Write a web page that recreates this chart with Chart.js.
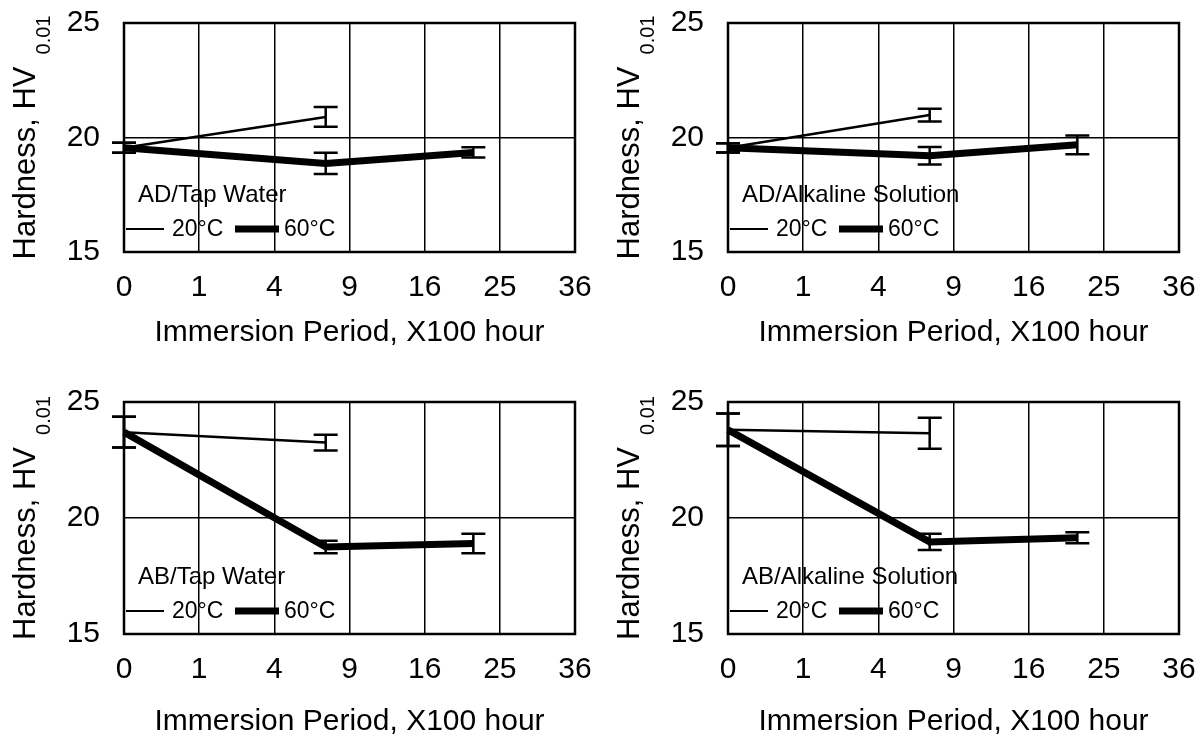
<!DOCTYPE html>
<html>
<head>
<meta charset="utf-8">
<script src="https://cdn.jsdelivr.net/npm/chart.js@4/dist/chart.umd.min.js"></script>
<style>
  body { margin: 0; background: #fff; overflow: hidden; }
  .panel { position: absolute; width: 602px; height: 368px; }
</style>
</head>
<body>
<div class="panel" style="left:0;top:0"><canvas id="adTap"></canvas></div>
<div class="panel" style="left:604px;top:0"><canvas id="adAlk"></canvas></div>
<div class="panel" style="left:0;top:379px"><canvas id="abTap"></canvas></div>
<div class="panel" style="left:604px;top:379px"><canvas id="abAlk"></canvas></div>
<script>
// immersion period, x100 hour
const periods = [0, 7.2, 21.6];
const xTicks = [0, 1, 4, 9, 16, 25, 36];
const yTicks = [15, 20, 25];

// hardness HV0.01 (mean) and error (+/-)
const adTap20 = [19.55, 20.9];
const adTap20Err = [0.22, 0.43];
const adTap60 = [19.55, 18.87, 19.35];
const adTap60Err = [0.22, 0.46, 0.22];

const adAlk20 = [19.55, 20.98];
const adAlk20Err = [0.2, 0.28];
const adAlk60 = [19.55, 19.2, 19.68];
const adAlk60Err = [0.2, 0.38, 0.41];

const abTap20 = [23.7, 23.25];
const abTap20Err = [0.66, 0.34];
const abTap60 = [23.7, 18.75, 18.9];
const abTap60Err = [0.66, 0.27, 0.42];

const abAlk20 = [23.8, 23.65];
const abAlk20Err = [0.7, 0.67];
const abAlk60 = [23.8, 18.97, 19.15];
const abAlk60Err = [0.7, 0.35, 0.24];

const FONT = '"Liberation Sans", Arial, sans-serif';

function points(vals) {
    return vals.map((v, i) => ({ x: Math.sqrt(periods[i]), y: v }));
}

// frame around plot area
const frame = {
    id: "frame",
    beforeDatasetsDraw(chart) {
        const a = chart.chartArea, ctx = chart.ctx;
        ctx.save();
        ctx.strokeStyle = "#000";
        ctx.lineWidth = 2.5;
        ctx.strokeRect(a.left, a.top, a.right - a.left, a.bottom - a.top);
        ctx.restore();
    }
};

// I-shaped error bars
const errorBars = {
    id: "errorBars",
    afterDatasetsDraw(chart) {
        const ctx = chart.ctx, xs = chart.scales.x, ys = chart.scales.y;
        ctx.save();
        ctx.strokeStyle = "#000";
        ctx.lineWidth = 2.5;
        chart.data.datasets.forEach(ds => {
            ds.data.forEach((p, i) => {
                const e = ds.err[i];
                const x = xs.getPixelForValue(p.x);
                const y1 = ys.getPixelForValue(p.y + e);
                const y2 = ys.getPixelForValue(p.y - e);
                ctx.beginPath();
                ctx.moveTo(x, y1); ctx.lineTo(x, y2);
                ctx.moveTo(x - 12, y1); ctx.lineTo(x + 12, y1);
                ctx.moveTo(x - 12, y2); ctx.lineTo(x + 12, y2);
                ctx.stroke();
            });
        });
        ctx.restore();
    }
};

// panel label + legend inside plot, and y axis title with subscript
const labels = {
    id: "labels",
    afterDraw(chart) {
        const a = chart.chartArea, ctx = chart.ctx;
        const opts = chart.options.plugins.labels;
        ctx.save();
        ctx.fillStyle = "#000";
        ctx.strokeStyle = "#000";
        ctx.textBaseline = "alphabetic";
        ctx.font = "24px " + FONT;
        ctx.fillText(opts.text, a.left + 14, a.bottom - 50);

        const ly = a.bottom - 23;
        ctx.lineWidth = 2;
        ctx.beginPath(); ctx.moveTo(a.left + 2, ly); ctx.lineTo(a.left + 40, ly); ctx.stroke();
        ctx.textBaseline = "middle";
        ctx.font = "23px " + FONT;
        ctx.fillText(chart.data.datasets[0].label, a.left + 48, ly + 1);
        ctx.lineWidth = 7;
        ctx.beginPath(); ctx.moveTo(a.left + 111, ly); ctx.lineTo(a.left + 155, ly); ctx.stroke();
        ctx.fillText(chart.data.datasets[1].label, a.left + 160, ly + 1);

        // y title
        ctx.translate(26, (a.top + a.bottom) / 2);
        ctx.rotate(-Math.PI / 2);
        ctx.textAlign = "left";
        ctx.textBaseline = "middle";
        ctx.font = "31px " + FONT;
        const main = "Hardness, HV";
        const w1 = ctx.measureText(main).width;
        ctx.font = "20px " + FONT;
        const sub = "0.01";
        const w2 = ctx.measureText(sub).width;
        const start = -(w1 + 12 + w2) / 2;
        ctx.font = "31px " + FONT;
        ctx.fillText(main, start, 0);
        ctx.font = "20px " + FONT;
        ctx.fillText(sub, start + w1 + 12, 18);
        ctx.restore();
    }
};

function makeChart(id, text, h20, e20, h60, e60, xAxisH, titlePad) {
    new Chart(document.getElementById(id), {
        type: "line",
        data: {
            datasets: [{
                label: "20°C",
                data: points(h20),
                err: e20,
                borderColor: "#000",
                borderWidth: 2.5,
                pointRadius: 0,
                clip: false
            }, {
                label: "60°C",
                data: points(h60),
                err: e60,
                borderColor: "#000",
                borderWidth: 7,
                pointRadius: 0,
                clip: false
            }]
        },
        options: {
            responsive: true,
            maintainAspectRatio: false,
            animation: false,
            layout: { padding: { top: 23, right: 27, left: 0, bottom: 0 } },
            scales: {
                x: {
                    type: "linear",
                    min: 0,
                    max: Math.sqrt(xTicks[xTicks.length - 1]),
                    afterBuildTicks: s => { s.ticks = xTicks.map(t => ({ value: Math.sqrt(t) })); },
                    afterFit: s => {
                        s.height = xAxisH;
                        s.paddingLeft = 0; s.paddingRight = 0;
                    },
                    ticks: {
                        callback: v => Math.round(v * v),
                        color: "#000",
                        font: { size: 30, family: FONT },
                        padding: 18,
                        maxRotation: 0
                    },
                    title: {
                        display: true,
                        text: "Immersion Period, X100 hour",
                        color: "#000",
                        font: { size: 30, family: FONT },
                        padding: { top: 0, bottom: titlePad }
                    },
                    grid: { color: "#000", lineWidth: 1.5, drawTicks: false },
                    border: { display: false }
                },
                y: {
                    min: yTicks[0],
                    max: yTicks[yTicks.length - 1],
                    afterBuildTicks: s => { s.ticks = yTicks.map(t => ({ value: t })); },
                    afterFit: s => {
                        s.width = 124;
                        s.paddingTop = 0; s.paddingBottom = 0;
                    },
                    ticks: {
                        color: "#000",
                        font: { size: 30, family: FONT },
                        padding: 24
                    },
                    grid: { color: "#000", lineWidth: 1.5, drawTicks: false },
                    border: { display: false }
                }
            },
            plugins: {
                legend: { display: false },
                tooltip: { enabled: false },
                labels: { text: text }
            }
        },
        plugins: [frame, errorBars, labels]
    });
}

makeChart("adTap", "AD/Tap Water", adTap20, adTap20Err, adTap60, adTap60Err, 116, 17);
makeChart("adAlk", "AD/Alkaline Solution", adAlk20, adAlk20Err, adAlk60, adAlk60Err, 116, 17);
makeChart("abTap", "AB/Tap Water", abTap20, abTap20Err, abTap60, abTap60Err, 113, 7);
makeChart("abAlk", "AB/Alkaline Solution", abAlk20, abAlk20Err, abAlk60, abAlk60Err, 113, 7);
</script>
</body>
</html>
